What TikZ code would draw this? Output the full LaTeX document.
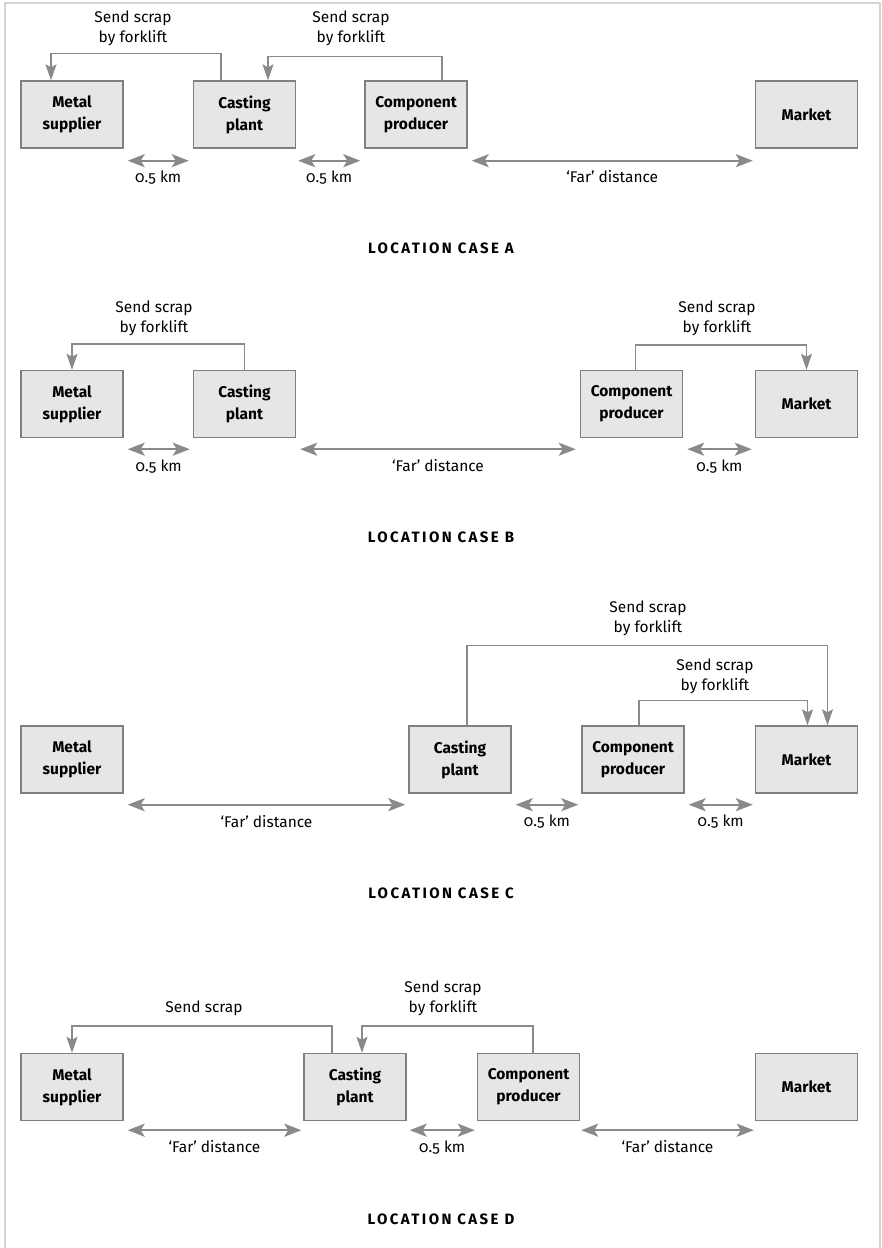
\documentclass[tikz,border=0pt]{standalone}
\usepackage{fontspec}
\setmainfont{Fira Sans}[Numbers=OldStyle]
\usetikzlibrary{arrows.meta,calc}

\definecolor{boxfill}{HTML}{E6E6E6}
\definecolor{boxline}{HTML}{808080}
\definecolor{linkgray}{HTML}{8A8A8A}
\definecolor{framegray}{HTML}{D4D4D4}

\tikzset{
  site/.style={draw=boxline, fill=boxfill, line width=1.4pt,
    minimum width=102pt, minimum height=67pt, inner sep=0pt,
    align=center, font=\fontsize{15.5}{22}\selectfont\bfseries},
  scrap/.style={draw=linkgray, line width=1.4pt,
    -{Stealth[length=16pt,width=11pt,inset=3pt]}},
  dist/.style={draw=linkgray, line width=2.4pt,
    {Stealth[length=17pt,width=13pt,inset=4pt]}-{Stealth[length=17pt,width=13pt,inset=4pt]}},
  note/.style={align=center, inner sep=0pt, font=\fontsize{15.5}{20}\selectfont},
  distlabel/.style={inner sep=0pt, font=\fontsize{15.5}{18}\selectfont},
  casetitle/.style={inner sep=0pt, font=\fontsize{15}{17}\selectfont\bfseries\addfontfeatures{LetterSpace=16}},
}

\begin{document}
\begin{tikzpicture}[x=1pt, y=-1pt]
\useasboundingbox (0,0) rectangle (882,1248);
\fill[white] (0,0) rectangle (882,1248);
% open frame: left, top, right
\draw[framegray, line width=2.2pt] (5,1248) -- (5,3) -- (880,3) -- (880,1248);

% ---------------- Case A ----------------
\node[site] (aMS) at (72,114.5)  {Metal\\supplier};
\node[site] (aCP) at (244.5,114.5) {Casting\\plant};
\node[site] (aCO) at (416,114.5) {Component\\producer};
\node[site] (aMK) at (806.5,114.5) {Market};

\draw[scrap] ([xshift=-23.5pt]aCP.north) -- ++(0,-27) -| ([xshift=-21pt]aMS.north);
\draw[scrap] ([xshift=26pt]aCO.north) -- ++(0,-24) -| ([xshift=23.5pt]aCP.north);
\node[note] (aN1) at (133,28) {Send scrap\\by forklift};
\node[note] (aN2) at (351,28) {Send scrap\\by forklift};

\draw[dist] ($(aMS.south east)+(4,12)$) -- node[distlabel, below=9pt] (aD1) {0.5 km} ($(aCP.south west)+(-4,12)$);
\draw[dist] ($(aCP.south east)+(2,12)$) -- node[distlabel, below=9pt] (aD2) {0.5 km} ($(aCO.south west)+(-4,12)$);
\draw[dist] ($(aCO.south east)+(4,12)$) -- node[distlabel, below=9pt] (aD3) {‘Far’ distance} ($(aMK.south west)+(-2,12)$);
\node[casetitle] (aT) at (441,248) {LOCATION CASE A};

% ---------------- Case B ----------------
\node[site] (bMS) at (72,404)  {Metal\\supplier};
\node[site] (bCP) at (244.5,404) {Casting\\plant};
\node[site] (bCO) at (631.5,404) {Component\\producer};
\node[site] (bMK) at (806.5,404) {Market};

\draw[scrap] (bCP.north) -- ++(0,-26) -| (bMS.north);
\draw[scrap] ([xshift=4pt]bCO.north) -- ++(0,-25) -| (bMK.north);
\node[note] (bN1) at (154,318) {Send scrap\\by forklift};
\node[note] (bN2) at (717,318) {Send scrap\\by forklift};

\draw[dist] ($(bMS.south east)+(4,11)$) -- node[distlabel, below=9pt] (bD1) {0.5 km} ($(bCP.south west)+(-3,11)$);
\draw[dist] ($(bCP.south east)+(4,11)$) -- node[distlabel, below=9pt] (bD2) {‘Far’ distance} ($(bCO.south west)+(-4,11)$);
\draw[dist] ($(bCO.south east)+(4,11)$) -- node[distlabel, below=9pt] (bD3) {0.5 km} ($(bMK.south west)+(-3,11)$);
\node[casetitle] (bT) at (441,537) {LOCATION CASE B};

% ---------------- Case C ----------------
\node[site] (cMS) at (72,759.5)  {Metal\\supplier};
\node[site] (cCP) at (460,759.5) {Casting\\plant};
\node[site] (cCO) at (633,759.5) {Component\\producer};
\node[site] (cMK) at (806.5,759.5) {Market};

\draw[scrap] ([xshift=7pt]cCP.north) -- ++(0,-80) -| ([xshift=21pt]cMK.north);
\draw[scrap] ([xshift=6pt]cCO.north) -- ++(0,-25) -| ([xshift=1pt]cMK.north);
\node[note] (cN1) at (648,618) {Send scrap\\by forklift};
\node[note] (cN2) at (715,676) {Send scrap\\by forklift};

\draw[dist] ($(cMS.south east)+(4,11)$) -- node[distlabel, below=9pt] (cD1) {‘Far’ distance} ($(cCP.south west)+(-3,11)$);
\draw[dist] ($(cCP.south east)+(4,11)$) -- node[distlabel, below=9pt] (cD2) {0.5 km} ($(cCO.south west)+(-3,11)$);
\draw[dist] ($(cCO.south east)+(4,11)$) -- node[distlabel, below=9pt] (cD3) {0.5 km} ($(cMK.south west)+(-2,11)$);
\node[casetitle] (cT) at (441,893) {LOCATION CASE C};

% ---------------- Case D ----------------
\node[site] (dMS) at (72,1087)  {Metal\\supplier};
\node[site] (dCP) at (355,1087) {Casting\\plant};
\node[site] (dCO) at (528.5,1087) {Component\\producer};
\node[site] (dMK) at (806.5,1087) {Market};

\draw[scrap] ([xshift=-23pt]dCP.north) -- ++(0,-27) -| (dMS.north);
\draw[scrap] ([xshift=4.5pt]dCO.north) -- ++(0,-27) -| ([xshift=7pt]dCP.north);
\node[note] (dN1) at (204,1008) {Send scrap};
\node[note] (dN2) at (443,998) {Send scrap\\by forklift};

\draw[dist] ($(dMS.south east)+(4,9)$) -- node[distlabel, below=9pt] (dD1) {‘Far’ distance} ($(dCP.south west)+(-2,9)$);
\draw[dist] ($(dCP.south east)+(3,9)$) -- node[distlabel, below=9pt] (dD2) {0.5 km} ($(dCO.south west)+(-2,9)$);
\draw[dist] ($(dCO.south east)+(1,9)$) -- node[distlabel, below=9pt] (dD3) {‘Far’ distance} ($(dMK.south west)+(-1,9)$);
\node[casetitle] (dT) at (441,1219) {LOCATION CASE D};
\end{tikzpicture}
\end{document}
